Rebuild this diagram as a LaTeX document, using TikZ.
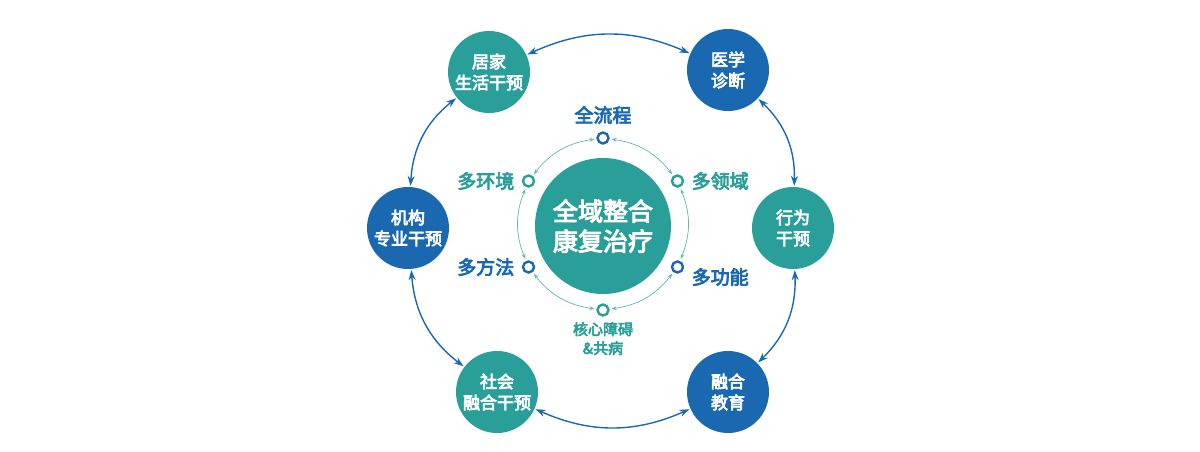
\documentclass[tikz,border=0pt]{standalone}
\usepackage{fontspec}
\setmainfont{Noto Sans CJK SC}[AutoFakeBold=4]
\usetikzlibrary{arrows.meta,calc,positioning}
\definecolor{tealc}{HTML}{2A9E98}
\definecolor{bluec}{HTML}{1A68B0}
\tikzset{
  big/.style={circle,minimum size=82pt,inner sep=0pt,text=white,font=\fontsize{17pt}{21pt}\selectfont\bfseries,align=center},
  dot/.style={circle,draw=#1,line width=2.4pt,minimum size=11pt,inner sep=0pt,fill=white},
  lab/.style={font=\fontsize{19pt}{22pt}\selectfont\bfseries,align=center},
  outarr/.style={bluec,line width=1.4pt,{Stealth[length=10pt,width=7pt]}-{Stealth[length=10pt,width=7pt]},shorten <=1pt,shorten >=1pt},
  inarr/.style={tealc!75,line width=0.7pt,{Stealth[length=5pt]}-{Stealth[length=5pt]},shorten <=2pt,shorten >=2pt}
}
\begin{document}
\begin{tikzpicture}[x=1pt,y=-1pt]
\useasboundingbox (0,0) rectangle (1200,451);
% outer ring
\node[big,fill=tealc] (home) at (489,72) {居家\\生活干预};
\node[big,fill=bluec] (med) at (728,70) {医学\\诊断};
\node[big,fill=tealc] (beh) at (793,228) {行为\\干预};
\node[big,fill=bluec] (edu) at (728,392) {融合\\教育};
\node[big,fill=tealc] (soc) at (497,392) {社会\\融合干预};
\node[big,fill=bluec] (inst) at (408,228) {机构\\专业干预};
% centre
\node[circle,fill=tealc,minimum size=136pt,inner sep=0pt,text=white,align=center,
  font=\fontsize{25pt}{30pt}\selectfont\bfseries] (core) at (603,226) {全域整合\\康复治疗};
% inner ring
\foreach \n/\a/\c in {p1/90/bluec,p2/30/tealc,p3/-30/bluec,p4/-90/tealc,p5/-150/bluec,p6/150/tealc}
  \node[dot=\c] (\n) at ($(603,224)+(\a:86 and -86)$) {};
\node[lab,text=bluec,above=4pt of p1] {全流程};
\node[lab,text=tealc,right=4pt of p2] {多领域};
\node[lab,text=bluec,right=4pt of p3,yshift=-10pt] {多功能};
\node[lab,text=tealc,below=2pt of p4,font=\fontsize{15pt}{19pt}\selectfont\bfseries] {核心障碍\\\&共病};
\node[lab,text=bluec,left=4pt of p5] {多方法};
\node[lab,text=tealc,left=4pt of p6] {多环境};
% connectors
\draw[outarr] (home) to[bend left=24] (med);
\draw[outarr] (med) to[bend left=24] (beh);
\draw[outarr] (beh) to[bend left=24] (edu);
\draw[outarr] (edu) to[bend left=24] (soc);
\draw[outarr] (soc) to[bend left=24] (inst);
\draw[outarr] (inst) to[bend left=24] (home);
\draw[inarr] (p1) to[bend left=22] (p2);
\draw[inarr] (p2) to[bend left=22] (p3);
\draw[inarr] (p3) to[bend left=22] (p4);
\draw[inarr] (p4) to[bend left=22] (p5);
\draw[inarr] (p5) to[bend left=22] (p6);
\draw[inarr] (p6) to[bend left=22] (p1);
\end{tikzpicture}
\end{document}
